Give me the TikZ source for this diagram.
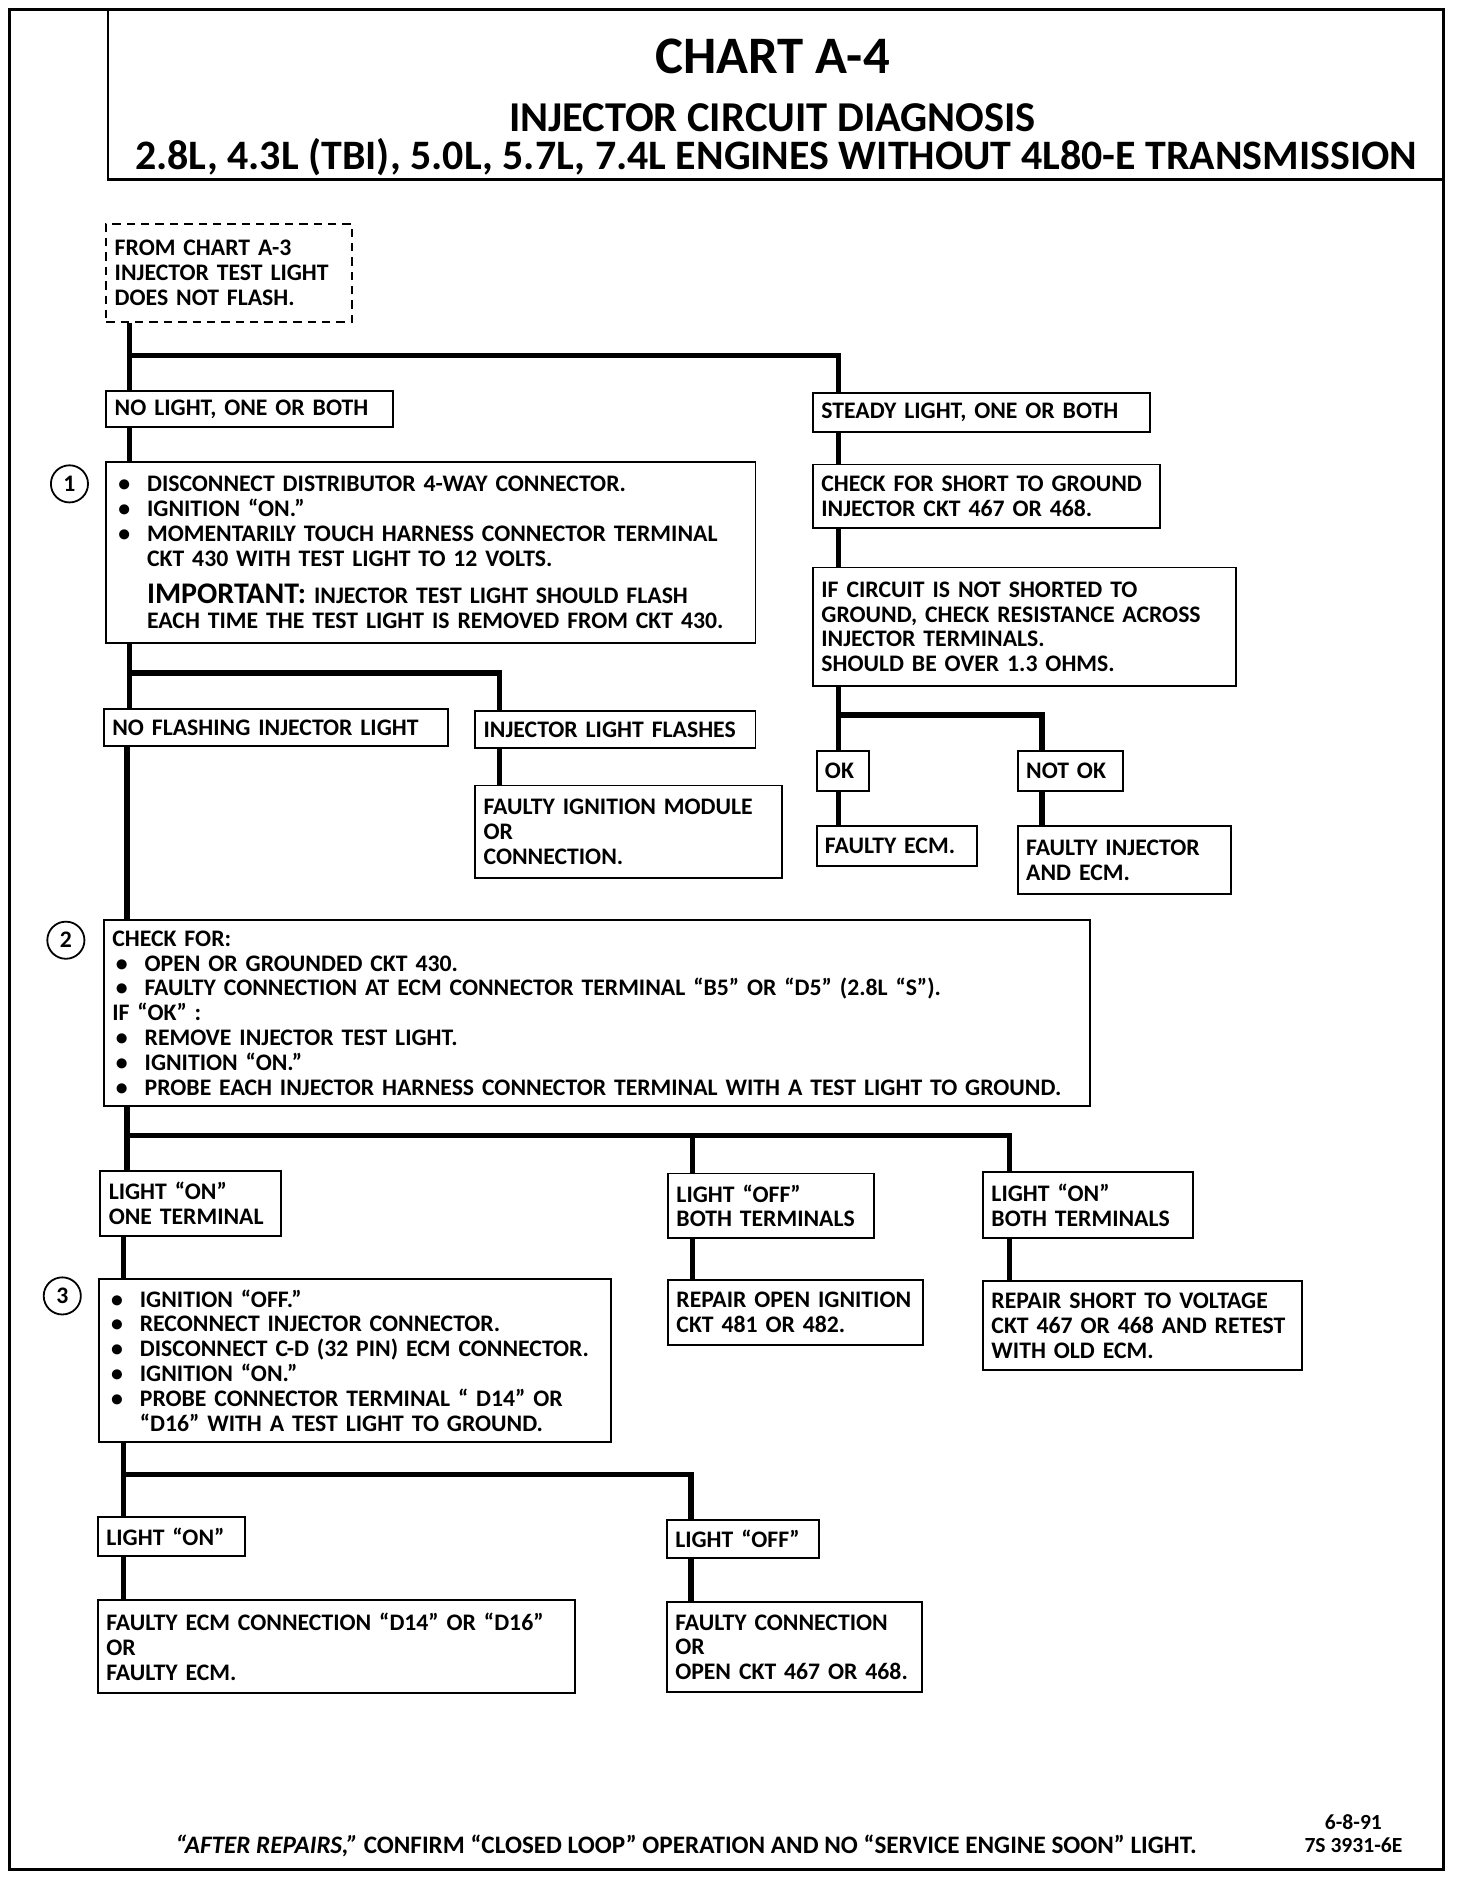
\documentclass[tikz,border=0pt]{standalone}
\usepackage{fontspec}
\setmainfont{Carlito}
\usepackage{tikz}
\usetikzlibrary{positioning,calc}
\newcommand{\Bp}{\makebox[27pt][l]{\hspace{3pt}\textbullet}}
\newcommand{\Bi}{\hspace*{27pt}}
\tikzset{
  bx/.style={draw, line width=1.6pt, anchor=north west, align=left,
             inner xsep=7pt, inner ysep=3pt},
  dbx/.style={bx, dash pattern=on 7pt off 5pt},
  ln/.style={line width=4.5pt},
  ncir/.style={circle, draw, line width=1.5pt, minimum size=31pt, inner sep=0pt},
}

\begin{document}
\begin{tikzpicture}[x=1pt,y=-1pt,font=\fontsize{19.8}{20.7}\selectfont\bfseries]
  \useasboundingbox (0,0) rectangle (1216,1568);
  % frame and header
  \draw[line width=2.5pt] (8,8) rectangle (1205,1561);
  \draw[line width=2pt] (90,8) -- (90,150) -- (1205,150);
  \node[font=\fontsize{44}{48}\selectfont\bfseries] (title) at (645,47){CHART A-4};
  \node[font=\fontsize{35.5}{38}\selectfont\bfseries] (subtitle) at (645,98){INJECTOR CIRCUIT DIAGNOSIS};
  \node[font=\fontsize{35}{38}\selectfont\bfseries] (engines) at (648,131){2.8L, 4.3L (TBI), 5.0L, 5.7L, 7.4L ENGINES WITHOUT 4L80-E TRANSMISSION};
  % boxes
  \node[dbx, text width=191pt, minimum height=82pt] (start) at (88,186){FROM CHART A-3\\ INJECTOR TEST LIGHT\\ DOES NOT FLASH.};
  \node[bx, text width=225pt, minimum height=30pt] (nolight) at (88,326){NO LIGHT, ONE OR BOTH};
  \node[bx, text width=267pt, minimum height=33pt] (steady) at (678,327){STEADY LIGHT, ONE OR BOTH};
  \node[bx, text width=528pt, minimum height=151pt] (stepA) at (88,385){\Bp DISCONNECT DISTRIBUTOR 4-WAY CONNECTOR.\\
    \Bp IGNITION “ON.”\\
    \Bp MOMENTARILY TOUCH HARNESS CONNECTOR TERMINAL\\
    \Bi CKT 430 WITH TEST LIGHT TO 12 VOLTS.\\[11pt]
    \Bi {\fontsize{25}{20.7}\selectfont IMPORTANT:} INJECTOR TEST LIGHT SHOULD FLASH\\
    \Bi EACH TIME THE TEST LIGHT IS REMOVED FROM CKT 430.};
  \node[bx, text width=276pt, minimum height=53pt] (chkgnd) at (678,387){CHECK FOR SHORT TO GROUND\\ INJECTOR CKT 467 OR 468.};
  \node[bx, text width=339pt, minimum height=99pt] (chkres) at (678,473){IF CIRCUIT IS NOT SHORTED TO\\ GROUND, CHECK RESISTANCE ACROSS\\ INJECTOR TERMINALS.\\ SHOULD BE OVER 1.3 OHMS.};
  \node[bx, text width=30pt, minimum height=34pt] (ok) at (681,626){OK};
  \node[bx, text width=74pt, minimum height=34pt] (notok) at (849,626){NOT OK};
  \node[bx, text width=120pt, minimum height=33pt] (ecmA) at (681,689){FAULTY ECM.};
  \node[bx, text width=164pt, minimum height=57pt] (injecm) at (849,689){FAULTY INJECTOR\\ AND ECM.};
  \node[bx, text width=273pt, minimum height=31pt] (noflash) at (86,591){NO FLASHING INJECTOR LIGHT};
  \node[bx, text width=220pt, minimum height=31pt] (flash) at (396,593){INJECTOR LIGHT FLASHES};
  \node[bx, text width=242pt, minimum height=77pt] (ignmod) at (396,655){FAULTY IGNITION MODULE\\ OR\\ CONNECTION.};
  \node[bx, text width=809pt, minimum height=156pt] (stepB) at (86,767){CHECK FOR:\\
    \Bp OPEN OR GROUNDED CKT 430.\\
    \Bp FAULTY CONNECTION AT ECM CONNECTOR TERMINAL “B5” OR “D5” (2.8L “S”).\\
    IF “OK” :\\
    \Bp REMOVE INJECTOR TEST LIGHT.\\
    \Bp IGNITION “ON.”\\
    \Bp PROBE EACH  INJECTOR HARNESS CONNECTOR TERMINAL WITH A TEST LIGHT TO GROUND.};
  \node[bx, text width=137pt, minimum height=54pt] (oneterm) at (83,977){LIGHT “ON”\\ ONE TERMINAL};
  \node[bx, text width=158pt, minimum height=54pt] (offboth) at (557,979){LIGHT “OFF”\\ BOTH TERMINALS};
  \node[bx, text width=161pt, minimum height=55pt] (onboth) at (820,978){LIGHT “ON”\\ BOTH TERMINALS};
  \node[bx, text width=199pt, minimum height=54pt] (repopen) at (557,1068){REPAIR OPEN IGNITION\\ CKT 481 OR 482.};
  \node[bx, text width=252pt, minimum height=74pt] (repshort) at (820,1069){REPAIR SHORT TO  VOLTAGE\\ CKT 467 OR 468 AND RETEST\\ WITH OLD ECM.};
  \node[bx, text width=413pt, minimum height=136pt] (stepC) at (82,1067){\Bp IGNITION “OFF.”\\
    \Bp RECONNECT INJECTOR CONNECTOR.\\
    \Bp DISCONNECT C-D (32 PIN) ECM CONNECTOR.\\
    \Bp IGNITION “ON.”\\
    \Bp PROBE CONNECTOR TERMINAL “ D14” OR\\
    \Bi “D16” WITH A TEST LIGHT TO GROUND.};
  \node[bx, text width=109pt, minimum height=32pt] (lighton) at (81,1266){LIGHT “ON”};
  \node[bx, text width=113pt, minimum height=32pt] (lightoff) at (556,1268){LIGHT “OFF”};
  \node[bx, text width=384pt, minimum height=78pt] (ecmconn) at (81,1335){FAULTY ECM CONNECTION “D14” OR “D16”\\ OR\\ FAULTY ECM.};
  \node[bx, text width=199pt, minimum height=75pt] (openckt) at (556,1337){FAULTY CONNECTION\\ OR\\ OPEN CKT 467 OR 468.};
  % step numbers
  \node[ncir] (n1) at (58,404){1};
  \node[ncir] (n2) at (55,785){2};
  \node[ncir] (n3) at (52,1082){3};
  % split points
  \coordinate (tA) at (108,297);
  \coordinate (tB) at (700,597);
  \coordinate (tC) at (108,562);
  \coordinate (tD) at (106,948);
  \coordinate (tE) at (103,1231);
  % connectors
  \draw[ln] (start.south -| tA) -- (nolight.north -| tA);
  \draw[ln] (tA) -| (steady.north -| tB);
  \draw[ln] (nolight.south -| tA) -- (stepA.north -| tA);
  \draw[ln] (steady.south -| tB) -- (chkgnd.north -| tB);
  \draw[ln] (chkgnd.south -| tB) -- (chkres.north -| tB);
  \draw[ln] (chkres.south -| tB) -- (ok.north -| tB);
  \draw[ln] (tB) -| ([xshift=21pt]notok.north west);
  \draw[ln] (ok.south -| tB) -- (ecmA.north -| tB);
  \draw[ln] ([xshift=21pt]notok.south west) -- ([xshift=21pt]injecm.north west);
  \draw[ln] (stepA.south -| tC) -- (noflash.north -| tC);
  \draw[ln] (tC) -| ([xshift=21pt]flash.north west);
  \draw[ln] ([xshift=21pt]flash.south west) -- ([xshift=21pt]ignmod.north west);
  \draw[ln] (noflash.south -| tD) -- (stepB.north -| tD);
  \draw[ln] (stepB.south -| tD) -- (oneterm.north -| tD);
  \draw[ln] (tD) -| ([xshift=23pt]onboth.north west);
  \draw[ln] (tD -| offboth.north west) ++(21,0) -- ([xshift=21pt]offboth.north west);
  \draw[ln] ([xshift=21pt]offboth.south west) -- ([xshift=21pt]repopen.north west);
  \draw[ln] ([xshift=23pt]onboth.south west) -- ([xshift=23pt]repshort.north west);
  \draw[ln] (oneterm.south -| tE) -- (stepC.north -| tE);
  \draw[ln] (stepC.south -| tE) -- (lighton.north -| tE);
  \draw[ln] (tE) -| ([xshift=21pt]lightoff.north west);
  \draw[ln] (lighton.south -| tE) -- (ecmconn.north -| tE);
  \draw[ln] ([xshift=21pt]lightoff.south west) -- ([xshift=21pt]openckt.north west);
  % footer
  \node[font=\fontsize{21}{22}\selectfont\bfseries] (note) at (573,1541){{\itshape “AFTER REPAIRS,”} CONFIRM “CLOSED LOOP” OPERATION AND NO “SERVICE ENGINE SOON” LIGHT.};
  \node[align=center, font=\fontsize{18}{19}\selectfont\bfseries] (code) at (1130,1531){6-8-91\\ 7S 3931-6E};
\end{tikzpicture}
\end{document}
